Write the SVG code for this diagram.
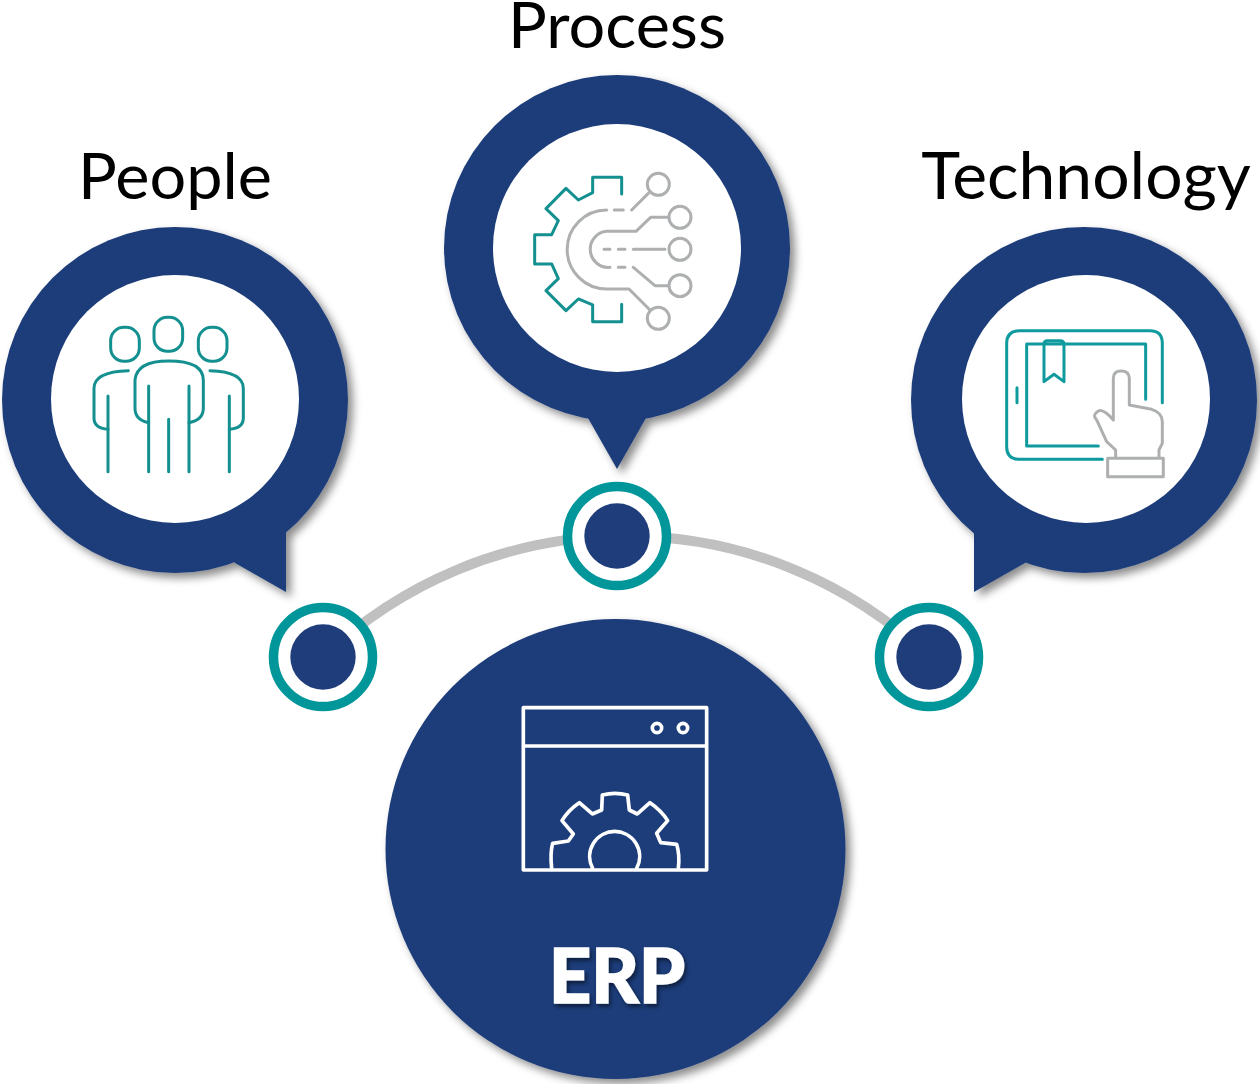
<svg xmlns="http://www.w3.org/2000/svg" width="1260" height="1084" viewBox="0 0 1260 1084">
<style>
.lbl{font-family:Lato,"Liberation Sans",sans-serif;font-size:64.8px;fill:#000;text-anchor:middle}
.bub{fill:#1f3d7a;filter:url(#sh)}
.in{fill:#fff}
.t,.g,.w{fill:none;stroke-width:9;stroke-linecap:round;stroke-linejoin:round}
.t{stroke:#13908f}.g{stroke:#adafb0}.w{stroke:#fff;stroke-width:11}
.ring{fill:#fff;stroke:#00969a;stroke-width:9.5}
.dot{fill:#1f3d7a}
</style>
<defs>
<filter id="sh" x="-10%" y="-10%" width="125%" height="125%"><feDropShadow dx="5" dy="5" stdDeviation="4" flood-color="#000" flood-opacity=".45"/></filter>
<filter id="ts" x="-10%" y="-10%" width="125%" height="125%"><feDropShadow dx="2" dy="3" stdDeviation="2" flood-color="#000" flood-opacity=".5"/></filter>
</defs>
<g id="connectors"><path d="M323 657A440 440 0 0 1 929 657" fill="none" stroke="#c0c0c0" stroke-width="10"/></g>
<g id="people">
<g class="bub"><circle cx="175" cy="400" r="173"/><path d="M175 400L286 532V592L235 563Z"/></g>
<circle class="in" cx="175" cy="399" r="124"/>
<g transform="translate(70 300) scale(.3333)">
<rect class="t" x="122" y="82" width="86" height="102" rx="40"/><rect class="t" x="252" y="52" width="86" height="102" rx="40"/><rect class="t" x="385" y="82" width="86" height="102" rx="40"/>
<path class="t" d="M236 515V258M357 515V258M296 515V358M114 515V288M478 515V288"/>
<path class="t" d="M236 368Q195 360 195 325V240Q200 183 296 183Q400 183 400 240V325Q400 360 357 368"/>
<path class="t" d="M175 212Q72 215 72 265V355Q72 385 114 388M420 212Q520 215 520 265V355Q520 385 478 388"/>
</g>
<text class="lbl" x="175" y="199">People</text>
</g>
<g id="process">
<g class="bub"><circle cx="617" cy="248" r="173"/><path d="M617 248L646 418L617 469L588 418Z"/></g>
<circle class="in" cx="617" cy="248" r="124"/>
<g transform="translate(510 150) scale(.3333)">
<path class="t" d="M335 132V82H248V128L205 150L168 115L108 176L145 212L125 254H74V342H125L145 386L108 422L168 482L205 447L248 465V515H335V463"/>
<path class="g" d="M290 180A118 118 0 0 0 290 417H357L420 480M313 180H340M365 180L415 130M300 352A54 54 0 0 1 290 244H378L422 202H475M282 298H300M325 298H345M370 298H465M325 352H345M370 352L435 407H475"/>
<circle class="g" cx="445" cy="103" r="33"/><circle class="g" cx="510" cy="202" r="33"/><circle class="g" cx="510" cy="298" r="33"/><circle class="g" cx="510" cy="407" r="33"/><circle class="g" cx="445" cy="505" r="33"/>
</g>
<text class="lbl" x="617" y="48">Process</text>
</g>
<g id="technology">
<g class="bub"><circle cx="1084" cy="400" r="173"/><path d="M1084 400L974 532V592L1025 563Z"/></g>
<circle class="in" cx="1086" cy="399" r="124"/>
<g transform="translate(985 310) scale(.3333)">
<path class="t" style="stroke:#0f9a9e" d="M532 278V100Q532 62 495 62H105Q65 62 65 100V410Q65 448 105 448H352M482 268V102H125V408H340M177 102Q177 92 187 92H225Q237 92 237 102V215L207 193L177 215ZM96 233V278"/>
<path class="g" d="M392 445V420L365 395L335 330Q320 315 340 303Q355 295 385 330V205Q385 183 408 183Q433 183 433 205V285L500 298Q532 308 532 335V400L522 420V445M368 445H535V500H368Z"/>
</g>
<text class="lbl" x="1086" y="199" style="font-size:66px">Technology</text>
</g>
<g id="dot-left"><circle class="ring" cx="323" cy="657" r="49.5"/><circle class="dot" cx="323" cy="657" r="32.7"/></g>
<g id="dot-mid"><circle class="ring" cx="617" cy="536" r="49.5"/><circle class="dot" cx="617" cy="536" r="32.7"/></g>
<g id="dot-right"><circle class="ring" cx="929" cy="657" r="49.5"/><circle class="dot" cx="929" cy="657" r="32.7"/></g>
<g id="erp">
<circle class="bub" cx="615.500" cy="849" r="230"/>
<g transform="translate(500 690) scale(.3333)">
<path class="w" d="M70 53H620V540H70ZM70 168H620"/>
<circle class="w" cx="471" cy="114" r="14"/><circle class="w" cx="549" cy="114" r="14"/>
<path class="w" d="M155 535Q150 490 158 460L205 453L220 432L186 392Q205 360 238 338L277 372L305 360L307 315Q345 305 383 315L388 360L412 372L450 338Q485 362 503 392L470 430L482 458L530 463Q540 495 535 535M278 535A75 75 0 1 1 410 535"/>
</g>
<text x="617" y="1003" text-anchor="middle" font-family="Lato,'Liberation Sans',sans-serif" font-weight="900" font-size="76" fill="#fff" stroke="#fff" stroke-width="1.500" filter="url(#ts)" textLength="136" lengthAdjust="spacingAndGlyphs">ERP</text>
</g>
</svg>
